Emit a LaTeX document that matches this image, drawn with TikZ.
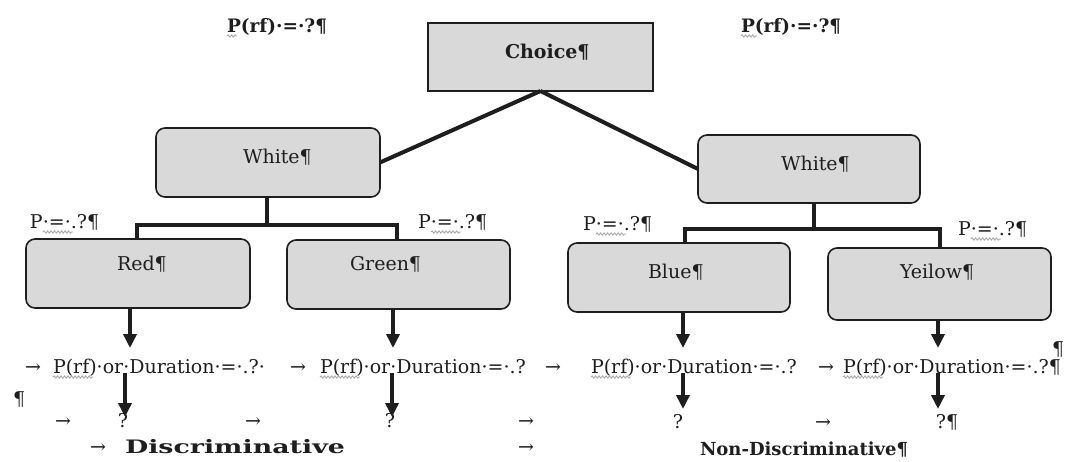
\documentclass[tikz,border=0pt]{standalone}
\usepackage{fontspec}
\setmainfont{DejaVu Serif}
\newfontfamily\widefam[FakeStretch=1.45]{DejaVu Serif}
\usetikzlibrary{arrows.meta,decorations.pathmorphing}
\definecolor{boxfill}{HTML}{D9D9D9}
\definecolor{ink}{HTML}{1E1E1E}
\definecolor{squig}{HTML}{A8A8A8}
\begin{document}
\begin{tikzpicture}[x=1pt,y=-1pt,
  box/.style={draw=ink, fill=boxfill, line width=1.6pt, inner sep=0pt, outer sep=0pt},
  rbox/.style={box, rounded corners=9pt},
  txt/.style={anchor=base west, inner sep=0pt, outer sep=0pt, text=ink, font=\fontsize{19}{22}\selectfont},
  ctxt/.style={txt, anchor=base},
  btxt/.style={txt, font=\fontsize{18.5}{22}\selectfont\bfseries},
  conn/.style={draw=ink, line width=4pt},
  tree/.style={draw=ink, line width=4pt, line join=miter},
  arr/.style={draw=ink, line width=4pt, -{Triangle[width=13pt,length=14pt]}},
  wavy/.style={draw=squig, line width=0.9pt, decorate, decoration={snake, segment length=3.5pt, amplitude=1.1pt}},
]
\useasboundingbox (0,0) rectangle (1088,461);

% top labels
\node[btxt] (topL) at (227,32) {P(rf)·=·?¶};
\node[btxt] (topR) at (741,32) {P(rf)·=·?¶};

% boxes
\node[box, minimum width=225, minimum height=68] (choice) at (540.5,57) {};
\node[btxt, font=\fontsize{19}{22}\selectfont\bfseries] (choiceT) at (505,58) {Choice¶};
\node[rbox, minimum width=224, minimum height=69] (whiteL) at (268,162.5) {};
\node[txt] (whiteLT) at (243,163) {White¶};
\node[rbox, minimum width=222, minimum height=68] (whiteR) at (809,169) {};
\node[txt] (whiteRT) at (781,170) {White¶};

\node[rbox, minimum width=224, minimum height=69] (red) at (138,273.5) {};
\node[txt] (redT) at (117,270) {Red¶};
\node[rbox, minimum width=223, minimum height=69] (green) at (398.5,274.5) {};
\node[txt] (greenT) at (350,270) {Green¶};
\node[rbox, minimum width=222, minimum height=69] (blue) at (679,277.5) {};
\node[txt] (blueT) at (648,278) {Blue¶};
\node[rbox, minimum width=223, minimum height=72] (yellow) at (939.5,284) {};
\node[txt] (yellowT) at (900,278) {Yeilow¶};

% probability labels
\node[txt] (pA) at (30,228) {P·=·.?¶};
\node[txt] (pB) at (418,228) {P·=·.?¶};
\node[txt] (pC) at (583,230) {P·=·.?¶};
\node[txt] (pD) at (958,235) {P·=·.?¶};

% connectors from Choice
\draw[conn] (choice.south) -- (whiteL.east);
\draw[conn] (choice.south) -- (whiteR.west);

% left tree
\coordinate (jLm) at (267,225);
\coordinate (jLl) at (137,225);
\coordinate (jLr) at (397,225);
\draw[tree] (whiteL.south -| jLm) -- (jLm);
\draw[tree] (red.north -| jLl) -- (jLl) -- (jLr) -- (green.north -| jLr);
% right tree
\coordinate (jRm) at (814,229);
\coordinate (jRl) at (685,229);
\coordinate (jRr) at (940,229);
\draw[tree] (whiteR.south -| jRm) -- (jRm);
\draw[tree] (blue.north -| jRl) -- (jRl) -- (jRr) -- (yellow.north -| jRr);

% row 1
\node[txt] (t1a) at (25,373) {→};
\node[txt] (d1) at (53,373) {P(rf)·or·Duration·=·.?·};
\node[txt] (t1b) at (290,373) {→};
\node[txt] (d2) at (320,373) {P(rf)·or·Duration·=·.?};
\node[txt] (t1c) at (545,373) {→};
\node[txt] (d3) at (591,373) {P(rf)·or·Duration·=·.?};
\node[txt] (t1d) at (818,373) {→};
\node[txt] (d4) at (843,373) {P(rf)·or·Duration·=·.?¶};
\node[txt] (pilR) at (1052,355) {¶};
\node[txt] (pilL) at (13,405) {¶};

% row 2
\node[txt] (t2a) at (55,427) {→};
\node[ctxt] (q1) at (123,427) {?};
\node[txt] (t2b) at (245,427) {→};
\node[ctxt] (q2) at (390,427) {?};
\node[txt] (t2c) at (518,427) {→};
\node[ctxt] (q3) at (678,428) {?};
\node[txt] (t2d) at (815,428) {→};
\node[ctxt] (q4) at (947,428) {?¶};

% row 3
\node[txt] (t3a) at (90,453) {→};
\node[btxt, font=\fontsize{18.5}{22}\selectfont\widefam\bfseries] (disc) at (125,453) {Discriminative};
\node[txt] (t3b) at (518,453) {→};
\node[btxt, font=\fontsize{18}{22}\selectfont\bfseries] (nondisc) at (700,455) {Non-Discriminative¶};

% spell-check underlines
\foreach \n in {d1,d2,d3,d4}{
  \draw[wavy] ([yshift=-4pt]\n.base west) -- ++(40,0);
}
\draw[wavy] ([yshift=-4pt]topR.base west) -- ++(16,0);
\draw[wavy] ([yshift=-4pt]topL.base west) -- ++(10,0);
\foreach \n in {pA,pB,pC,pD}{
  \draw[wavy] ([xshift=13pt,yshift=-4pt]\n.base west) -- ++(30,0);
}

% arrows box -> row 1
\coordinate (a1) at (130,348);
\coordinate (a2) at (393,348);
\coordinate (a3) at (683,348);
\coordinate (a4) at (938,348);
\draw[arr] (red.south -| a1) -- (a1);
\draw[arr] (green.south -| a2) -- (a2);
\draw[arr] (blue.south -| a3) -- (a3);
\draw[arr] (yellow.south -| a4) -- (a4);

% arrows row 1 -> row 2
\coordinate (b1) at (125,417);
\coordinate (b2) at (392,417);
\coordinate (b3) at (683,409);
\coordinate (b4) at (938,409);
\draw[arr] (d1.base -| b1) -- (b1);
\draw[arr] (d2.base -| b2) -- (b2);
\draw[arr] (d3.base -| b3) -- (b3);
\draw[arr] (d4.base -| b4) -- (b4);
\end{tikzpicture}
\end{document}
